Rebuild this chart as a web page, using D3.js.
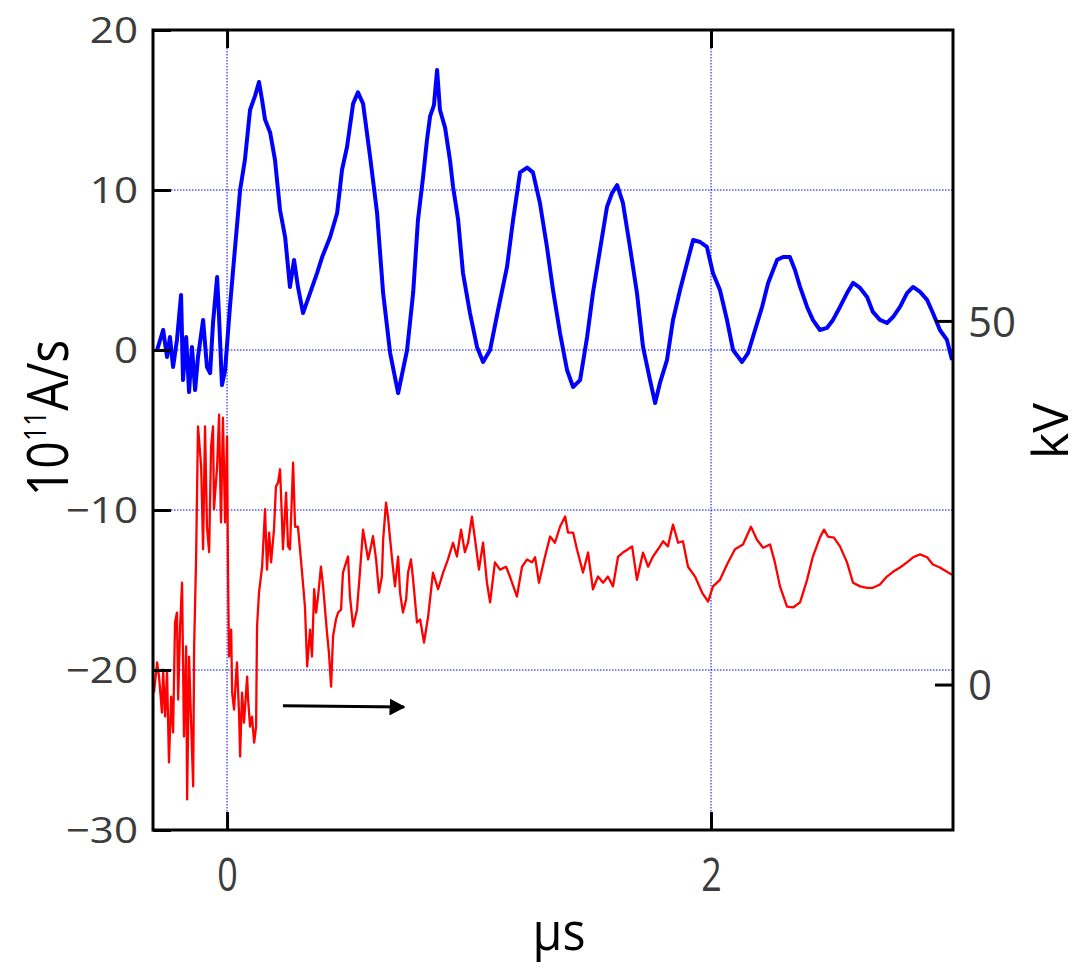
<!DOCTYPE html>
<html>
<head>
<meta charset="utf-8">
<script src="https://cdn.jsdelivr.net/npm/d3@7"></script>
<style>
  html, body { margin: 0; padding: 0; background: #fff; }
  svg { display: block; }
</style>
</head>
<body>
<svg id="chart" width="1082" height="967"></svg>
<script>
// ---------- data (time in µs) ----------
const blueT = [-0.289,-0.264,-0.248,-0.236,-0.223,-0.207,-0.190,-0.182,-0.169,-0.157,-0.145,-0.132,-0.120,-0.099,-0.083,-0.070,-0.058,-0.041,-0.033,-0.021,-0.008,
  0.012,0.025,0.054,0.074,0.095,0.116,0.132,0.145,0.157,0.178,0.198,0.219,0.240,0.260,0.277,0.293,0.314,0.343,0.372,0.393,0.426,0.455,0.475,0.496,0.521,0.541,0.562,0.591,0.620,0.645,0.674,0.707,0.744,0.769,0.789,0.810,0.826,0.839,0.855,0.868,0.880,0.901,0.921,0.934,0.955,0.975,
  1.004,1.033,1.058,1.087,1.120,1.157,1.182,1.211,1.240,1.264,1.293,1.322,1.347,1.376,1.405,1.430,1.459,1.488,1.512,1.541,1.570,1.591,1.612,1.636,1.665,1.694,1.719,1.748,1.769,1.789,1.818,1.843,1.872,1.901,1.926,1.955,1.983,
  2.008,2.037,2.066,2.091,2.128,2.153,2.182,2.211,2.236,2.273,2.298,2.326,2.347,2.368,2.397,2.421,2.450,2.479,2.504,2.533,2.562,2.587,2.616,2.645,2.669,2.698,2.727,2.752,2.781,2.810,2.835,2.864,2.893,2.917,2.946,2.975,2.996];
const blueV = [0,1.25,-0.44,0.81,-1.06,0.63,3.44,-1.88,0.81,-2.63,0.19,-2.5,-0.44,1.88,-1.06,-1.44,1.69,4.56,2.06,-2.19,-1.25,
  2.69,5.0,10.0,11.9,15.0,15.9,16.75,15.6,14.4,13.6,11.9,8.75,7.06,3.94,5.63,3.94,2.31,3.56,4.81,5.81,7.06,8.56,11.25,12.7,15.4,16.1,15.4,12.1,8.56,3.56,-0.19,-2.69,0,3.56,8.13,10.8,13.1,14.6,15.3,17.5,15.0,13.9,11.9,10.2,8.13,4.81,
  2.31,0.19,-0.75,0,2.5,5.19,8.13,11.1,11.4,11.1,9.19,6.44,3.75,1.06,-1.25,-2.31,-1.88,0.81,3.56,6.25,8.94,9.81,10.3,9.19,6.44,3.56,0.19,-1.88,-3.31,-2.06,-0.63,1.88,3.75,5.44,6.88,6.75,6.44,
  4.81,3.75,1.88,0,-0.75,-0.19,1.25,2.69,4.19,5.63,5.81,5.81,5.0,3.94,2.69,1.88,1.25,1.38,1.88,2.69,3.56,4.19,3.88,3.31,2.38,1.88,1.69,2.06,2.69,3.56,3.94,3.63,3.13,2.31,1.25,0.63,-0.63];

// red series in kV (right axis)
const redT = [-0.302,-0.289,-0.281,-0.269,-0.264,-0.256,-0.248,-0.240,-0.231,-0.223,-0.215,-0.207,-0.202,-0.194,-0.186,-0.178,-0.169,-0.165,-0.157,-0.149,-0.140,-0.136,-0.128,-0.120,-0.107,-0.099,-0.091,-0.083,-0.074,-0.066,-0.058,-0.054,-0.041,-0.033,-0.025,-0.017,-0.008,
  0,0.004,0.008,0.017,0.021,0.029,0.037,0.041,0.050,0.054,0.062,0.070,0.083,0.087,0.095,0.103,0.112,0.120,0.124,0.132,0.145,0.157,0.165,0.174,0.182,0.194,0.202,0.211,0.219,0.227,0.231,0.244,0.252,0.260,0.273,0.281,0.293,
  0.310,0.322,0.331,0.343,0.351,0.360,0.368,0.376,0.388,0.397,0.413,0.421,0.430,0.438,0.450,0.459,0.471,0.479,0.496,0.500,0.508,0.521,0.537,0.550,0.562,0.574,0.583,0.595,0.603,0.616,0.628,0.640,0.645,0.657,0.665,0.682,0.694,
  0.707,0.715,0.727,0.740,0.748,0.760,0.769,0.785,0.798,0.814,0.831,0.851,0.872,0.893,0.913,0.934,0.950,0.967,0.983,0.996,1.012,1.025,1.041,1.058,1.074,1.087,1.107,1.128,1.153,1.169,1.198,1.219,1.240,1.260,1.273,1.289,
  1.314,1.335,1.355,1.376,1.397,1.409,1.430,1.446,1.471,1.492,1.512,1.533,1.554,1.574,1.595,1.616,1.636,1.657,1.674,1.694,1.719,1.740,1.760,1.781,1.802,1.822,1.843,1.864,1.884,1.905,1.934,1.963,1.988,
  2.008,2.037,2.066,2.099,2.132,2.165,2.190,2.215,2.244,2.264,2.285,2.314,2.339,2.368,2.397,2.421,2.450,2.467,2.483,2.508,2.533,2.562,2.587,2.616,2.645,2.669,2.698,2.727,2.752,2.781,2.810,2.835,2.864,2.893,2.917,2.946,2.975,2.996];
const redKV = [-1.10,3.03,1.10,-3.85,2.06,-4.40,1.65,-10.7,-1.65,-6.6,8.53,9.9,-2.06,7.98,14.0,-7.15,5.23,-15.8,3.85,-4.81,-14.0,5.23,17.2,35.5,30.0,18.6,35.5,21.7,18.2,32.7,35.5,24.1,30.0,37.1,22.3,36.7,22.3,
  34.1,15.4,3.85,7.56,-1.1,-3.44,1.1,3.03,-4.4,-9.9,-1.1,-5.23,1.1,-2.06,-5.78,-4.4,-7.98,-5.78,7.98,12.65,16.2,24.1,15.8,20.9,16.8,21.3,27.2,27.8,29.6,22.7,18.6,26.4,19.0,18.6,30.5,21.7,21.7,
  15.4,10.7,2.48,7.56,3.85,13.1,9.9,12.1,16.2,13.5,7.15,4.4,-0.28,6.6,8.94,9.9,10.3,15.4,17.2,17.6,12.1,7.98,10.3,15.8,21.3,19.0,17.2,19.0,20.4,17.2,12.65,14.85,19.9,25.0,23.1,17.2,13.5,
  17.6,12.65,9.9,11.7,15.4,17.2,14.4,8.53,8.94,5.78,9.35,15.4,13.1,15.4,17.2,19.5,17.6,21.3,18.2,19.5,23.1,19.9,15.8,19.5,14.0,11.3,16.8,15.8,16.2,14.85,12.1,16.2,17.2,16.8,17.5,14.0,
  17.6,20.35,19.5,21.7,23.1,20.9,20.9,18.6,15.4,18.15,13.1,14.85,14.0,14.85,13.5,17.6,18.15,18.6,19.0,14.4,18.15,16.2,17.6,18.6,19.7,19.0,22.0,19.5,19.7,16.2,14.85,12.65,11.4,
  13.5,14.4,16.5,18.6,19.25,21.7,19.9,18.8,19.25,16.8,13.5,10.7,10.6,11.3,14.4,17.6,20.2,21.3,20.35,20.2,19.0,16.8,14.0,13.5,13.3,13.3,13.75,14.85,15.5,16.1,16.8,17.5,17.9,17.5,16.5,16.1,15.5,15.1];

const leftTicks = [20, 10, 0, -10, -20, -30];
const leftGrid = [10, 0, -10, -20];
const xTicks = [0, 2];
const rightTicks = [50, 0];
const arrowT = [0.231, 0.731];
const arrowKV = [-2.9, -3.1];

// ---------- layout ----------
const L = 153, T = 30, R = 953, B = 830;
const svg = d3.select("#chart");

const x = d3.scaleLinear().domain([-0.306, 3.0]).range([L, R]);
const yL = d3.scaleLinear().domain([-30, 20]).range([B, T]);
const yR = d3.scaleLinear().domain([-20, 90]).range([B, T]);

const defs = svg.append("defs");
defs.append("clipPath").attr("id", "clip")
  .append("rect").attr("x", L).attr("y", T).attr("width", R - L).attr("height", B - T);
defs.append("marker").attr("id", "ah")
  .attr("viewBox", "0 0 10 10").attr("refX", 9).attr("refY", 5)
  .attr("markerWidth", 16).attr("markerHeight", 17).attr("markerUnits", "userSpaceOnUse")
  .attr("preserveAspectRatio", "none")
  .attr("orient", "auto")
  .append("path").attr("d", "M0,0 L10,5 L0,10 Z").attr("fill", "#000");

// grid
const grid = svg.append("g");
grid.selectAll("line.h").data(leftGrid).join("line")
  .attr("x1", L).attr("x2", R).attr("y1", d => yL(d)).attr("y2", d => yL(d))
  .attr("stroke", "#0000ff").attr("stroke-width", 1).attr("stroke-dasharray", "1.5,1.5");
grid.selectAll("line.v").data(xTicks).join("line")
  .attr("y1", T).attr("y2", B).attr("x1", d => x(d)).attr("x2", d => x(d))
  .attr("stroke", "#0000ff").attr("stroke-width", 1).attr("stroke-dasharray", "1.5,1.5");

// series
const plot = svg.append("g").attr("clip-path", "url(#clip)");
const blueData = blueT.map((t, i) => [t, blueV[i]]);
const redData = redT.map((t, i) => [t, redKV[i]]);
plot.append("path").datum(redData)
  .attr("d", d3.line().x(d => x(d[0])).y(d => yR(d[1])))
  .attr("fill", "none").attr("stroke", "#ff0000").attr("stroke-width", 2.3).attr("stroke-linejoin", "round");
plot.append("path").datum(blueData)
  .attr("d", d3.line().x(d => x(d[0])).y(d => yL(d[1])))
  .attr("fill", "none").attr("stroke", "#0000ff").attr("stroke-width", 4).attr("stroke-linejoin", "round");

// arrow
svg.append("line")
  .attr("x1", x(arrowT[0])).attr("y1", yR(arrowKV[0]))
  .attr("x2", x(arrowT[1])).attr("y2", yR(arrowKV[1]))
  .attr("stroke", "#000").attr("stroke-width", 3).attr("marker-end", "url(#ah)");

// axes
const tickCol = "#3c3c3c";
function styleAxis(g) {
  g.select(".domain").remove();
  g.selectAll(".tick line").attr("stroke", "#000").attr("stroke-width", 3);
  g.selectAll("text").attr("fill", tickCol).attr("font-family", "'Open Sans', sans-serif");
}
const gl = svg.append("g").attr("transform", `translate(${L},0)`)
  .call(d3.axisLeft(yL).tickValues(leftTicks).tickSize(-18).tickPadding(15))
  .call(styleAxis);
gl.selectAll("text").attr("font-size", 36).attr("dy", "0.36em")
  .attr("x", -15 / 1.17).attr("transform", "scale(1.17,1)");

const gb = svg.append("g").attr("transform", `translate(0,${B})`)
  .call(d3.axisBottom(x).tickValues(xTicks).tickSize(-18).tickPadding(30).tickFormat(d3.format("d")))
  .call(styleAxis);
gb.selectAll("text").attr("font-size", 46)
  .attr("x", 0).attr("y", 61).attr("dy", 0).attr("transform", "scale(0.78,1)");

const gt = svg.append("g").attr("transform", `translate(0,${T})`)
  .call(d3.axisTop(x).tickValues(xTicks).tickSize(-18).tickFormat(""))
  .call(styleAxis);

const gr = svg.append("g").attr("transform", `translate(${R},0)`)
  .call(d3.axisRight(yR).tickValues(rightTicks).tickSize(-18).tickPadding(15))
  .call(styleAxis);
gr.selectAll("text").attr("font-size", 42).attr("dy", "0.36em");

// frame
svg.append("rect").attr("x", L).attr("y", T).attr("width", R - L).attr("height", B - T)
  .attr("fill", "none").attr("stroke", "#000").attr("stroke-width", 3);

// titles
svg.append("text").attr("transform", "translate(559,950) scale(0.93,1)").attr("text-anchor", "middle")
  .attr("font-family", "'Open Sans', sans-serif").attr("font-size", 52).attr("fill", "#000").text("µs");

const yt = svg.append("text").attr("transform", "translate(68,418) rotate(-90) scale(0.86,1)")
  .attr("text-anchor", "middle").attr("font-family", "'Open Sans', sans-serif")
  .attr("font-size", 56).attr("fill", "#000");
yt.append("tspan").text("10");
yt.append("tspan").attr("font-size", 31).attr("dy", -22).text("11");
yt.append("tspan").attr("dy", 22).text("A/s");

svg.append("text").attr("transform", "translate(1068,431) rotate(-90)")
  .attr("text-anchor", "middle").attr("font-family", "'Open Sans', sans-serif")
  .attr("font-size", 50).attr("fill", "#000").text("kV");
</script>
</body>
</html>
